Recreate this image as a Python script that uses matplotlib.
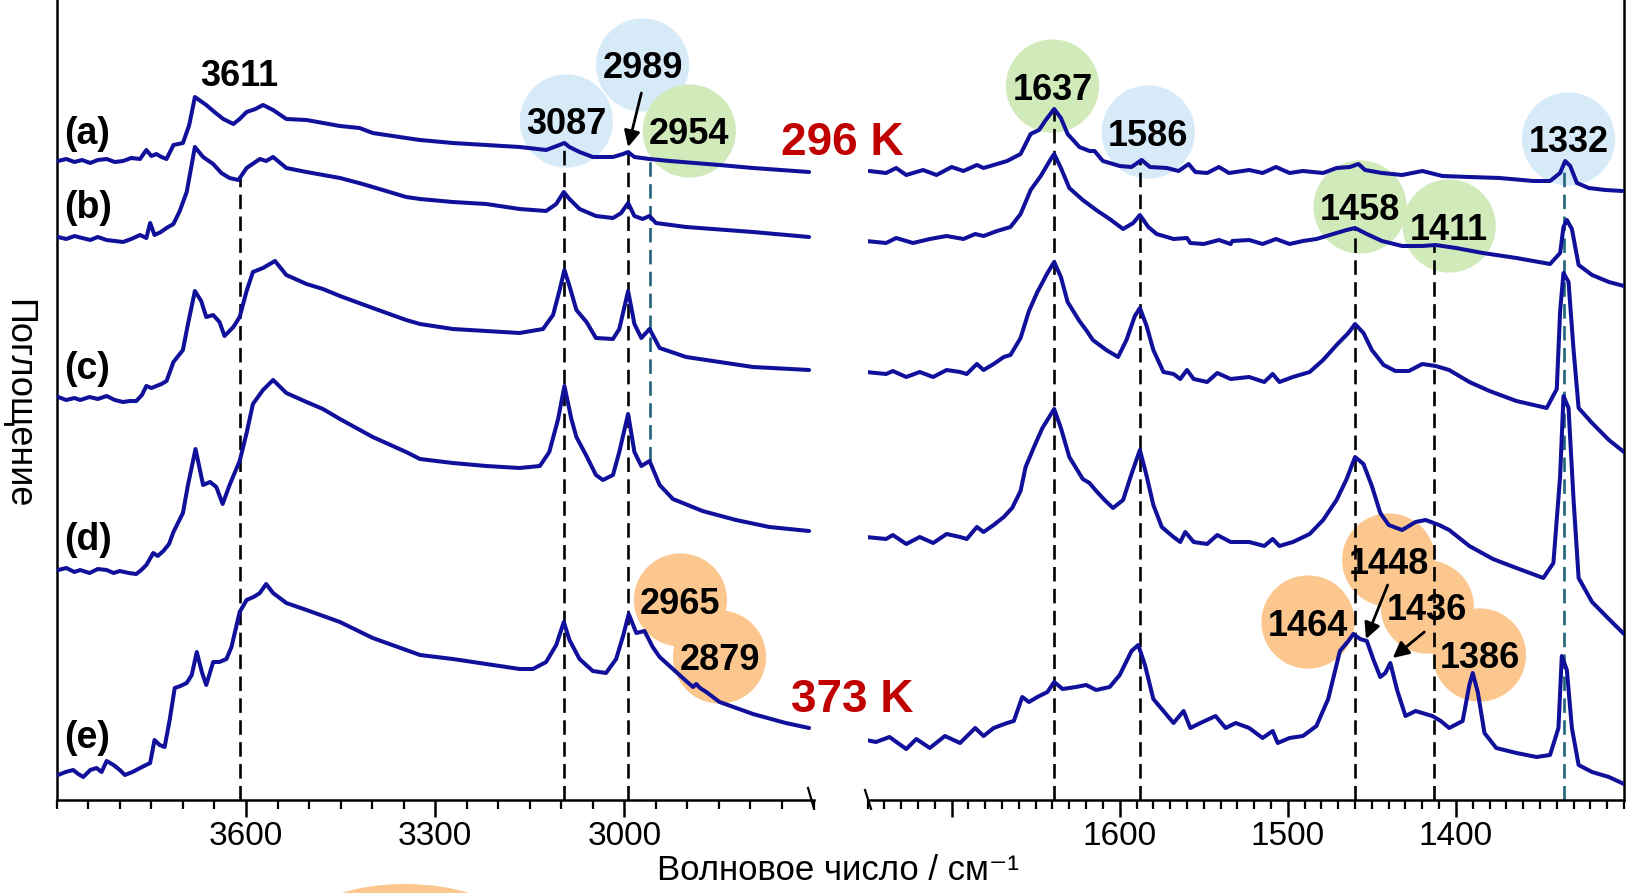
import numpy as np
import matplotlib
matplotlib.use("Agg")
import matplotlib.pyplot as plt
from matplotlib import font_manager
from matplotlib.ticker import FixedLocator, MultipleLocator
from matplotlib.patches import Ellipse
from matplotlib.lines import Line2D

plt.rcParams['font.family'] = ['Liberation Sans', 'DejaVu Sans']
_names = {f.name for f in font_manager.fontManager.ttflist}
if 'Liberation Sans Narrow' in _names:
    NARROW = ['Liberation Sans Narrow', 'DejaVu Sans']
    TICK_FS, XLAB_FS = 28, 30
else:
    NARROW = ['Liberation Sans', 'DejaVu Sans']
    TICK_FS, XLAB_FS = 24, 25

# ---------------- data (wavenumber cm-1, absorbance a.u. incl. offset) ----------------
spec_a_left = [(3898,6.39),(3885,6.41),(3872,6.38),(3860,6.40),(3847,6.37),(3835,6.40),(3821,6.41),(3808,6.38),
    (3795,6.39),(3782,6.42),(3768,6.41),(3758,6.50),(3750,6.44),(3742,6.46),(3734,6.43),(3726,6.41),(3715,6.55),
    (3700,6.57),(3690,6.75),(3681,7.03),(3672,6.99),(3663,6.95),(3650,6.88),(3636,6.81),(3620,6.76),(3610,6.81),
    (3599,6.88),(3585,6.91),(3573,6.95),(3557,6.90),(3536,6.81),(3504,6.80),(3451,6.74),(3420,6.72),(3399,6.67),
    (3346,6.62),(3324,6.60),(3272,6.57),(3219,6.55),(3166,6.53),(3124,6.50),(3103,6.55),(3095,6.57),(3087,6.53),
    (3071,6.48),(3050,6.43),(3018,6.43),(3002,6.46),(2994,6.48),(2984,6.43),(2960,6.41),(2928,6.39),(2849,6.35),
    (2796,6.32),(2707,6.28)]
spec_b_left = [(3898,5.63),(3885,5.61),(3872,5.64),(3860,5.62),(3847,5.60),(3835,5.63),(3821,5.60),(3808,5.59),
    (3795,5.58),(3782,5.61),(3768,5.65),(3758,5.62),(3752,5.77),(3745,5.65),(3735,5.68),(3726,5.72),(3715,5.76),
    (3705,5.89),(3694,6.08),(3681,6.53),(3668,6.43),(3652,6.36),(3639,6.27),(3626,6.22),(3612,6.20),(3599,6.32),
    (3578,6.41),(3568,6.39),(3557,6.43),(3536,6.32),(3504,6.28),(3451,6.22),(3415,6.16),(3399,6.13),(3346,6.03),
    (3324,6.01),(3272,5.98),(3219,5.96),(3166,5.91),(3124,5.89),(3108,5.96),(3096,6.08),(3087,6.01),(3071,5.91),
    (3045,5.84),(3018,5.82),(3005,5.87),(2994,5.97),(2984,5.84),(2971,5.81),(2960,5.84),(2950,5.77),(2902,5.73),
    (2796,5.68),(2707,5.63)]
spec_c_left = [(3898,4.03),(3885,4.00),(3872,4.02),(3863,4.00),(3848,4.03),(3835,4.01),(3821,4.04),(3808,4.00),
    (3795,3.98),(3784,3.99),(3774,3.99),(3765,4.05),(3758,4.14),(3750,4.12),(3742,4.14),(3734,4.16),(3726,4.19),
    (3715,4.38),(3700,4.50),(3692,4.76),(3681,5.09),(3671,4.99),(3663,4.83),(3652,4.85),(3642,4.78),(3634,4.64),
    (3620,4.73),(3610,4.83),(3599,5.09),(3589,5.28),(3573,5.32),(3554,5.39),(3536,5.25),(3504,5.16),(3478,5.11),
    (3451,5.04),(3399,4.92),(3346,4.80),(3324,4.76),(3272,4.71),(3219,4.69),(3166,4.67),(3129,4.71),(3113,4.85),
    (3103,5.09),(3095,5.30),(3087,5.14),(3076,4.90),(3060,4.78),(3045,4.62),(3018,4.61),(3008,4.71),(2994,5.09),
    (2984,4.76),(2973,4.62),(2960,4.71),(2944,4.52),(2902,4.43),(2849,4.38),(2796,4.33),(2707,4.30)]
spec_d_left = [(3898,2.30),(3885,2.32),(3872,2.28),(3863,2.30),(3848,2.27),(3835,2.31),(3821,2.30),(3810,2.27),
    (3800,2.29),(3786,2.27),(3774,2.26),(3766,2.30),(3758,2.35),(3747,2.47),(3740,2.44),(3731,2.49),(3722,2.56),
    (3715,2.68),(3700,2.87),(3692,3.15),(3680,3.51),(3668,3.15),(3657,3.18),(3647,3.13),(3637,2.96),(3626,3.15),
    (3610,3.39),(3599,3.67),(3589,3.96),(3573,4.10),(3557,4.20),(3536,4.07),(3504,3.98),(3478,3.91),(3451,3.81),
    (3399,3.63),(3346,3.48),(3324,3.41),(3272,3.37),(3219,3.34),(3166,3.32),(3134,3.34),(3119,3.48),(3105,3.81),
    (3095,4.14),(3084,3.81),(3076,3.63),(3060,3.44),(3045,3.25),(3034,3.20),(3018,3.25),(3008,3.48),(2994,3.86),
    (2984,3.48),(2973,3.34),(2960,3.39),(2944,3.15),(2923,3.01),(2876,2.89),(2823,2.80),(2770,2.73),(2707,2.69)]
spec_e_left = [(3898,0.25),(3886,0.28),(3874,0.30),(3866,0.26),(3858,0.23),(3847,0.30),(3837,0.32),(3829,0.28),
    (3821,0.39),(3810,0.35),(3800,0.30),(3792,0.25),(3780,0.28),(3768,0.32),(3752,0.37),(3745,0.60),(3737,0.55),
    (3729,0.53),(3721,0.80),(3713,1.12),(3704,1.14),(3694,1.17),(3686,1.25),(3678,1.48),(3670,1.28),(3663,1.15),
    (3652,1.38),(3642,1.38),(3631,1.41),(3623,1.53),(3610,1.88),(3599,2.00),(3588,2.03),(3578,2.07),(3568,2.16),
    (3557,2.07),(3536,1.97),(3504,1.90),(3451,1.78),(3399,1.62),(3346,1.50),(3324,1.45),(3272,1.41),(3219,1.36),
    (3166,1.31),(3145,1.31),(3124,1.38),(3108,1.55),(3096,1.78),(3087,1.60),(3071,1.41),(3050,1.29),(3029,1.27),
    (3013,1.41),(3002,1.64),(2993,1.86),(2981,1.67),(2968,1.69),(2955,1.53),(2944,1.43),(2923,1.31),(2902,1.19),
    (2891,1.13),(2886,1.16),(2880,1.12),(2870,1.08),(2849,0.98),(2796,0.86),(2744,0.77),(2707,0.72)]

spec_a_right = [(1749,6.29),(1739,6.27),(1733,6.32),(1727,6.25),(1717,6.30),(1709,6.25),(1700,6.33),(1693,6.29),
    (1685,6.35),(1681,6.32),(1673,6.36),(1667,6.39),(1659,6.46),(1653,6.66),(1648,6.70),(1644,6.80),(1639,6.91),
    (1635,6.82),(1631,6.66),(1624,6.53),(1618,6.49),(1615,6.49),(1610,6.39),(1600,6.34),(1593,6.33),(1587,6.40),
    (1582,6.33),(1572,6.32),(1565,6.29),(1559,6.36),(1555,6.28),(1548,6.27),(1541,6.33),(1535,6.27),(1523,6.30),
    (1515,6.27),(1507,6.33),(1499,6.27),(1491,6.29),(1479,6.27),(1471,6.32),(1463,6.33),(1458,6.36),(1454,6.30),
    (1444,6.27),(1432,6.25),(1420,6.29),(1408,6.24),(1392,6.23),(1374,6.22),(1354,6.19),(1344,6.19),(1338,6.27),
    (1335,6.39),(1332,6.34),(1328,6.17),(1321,6.12),(1311,6.10),(1301,6.09)]
spec_b_right = [(1751,5.59),(1739,5.57),(1733,5.62),(1723,5.57),(1713,5.61),(1703,5.64),(1693,5.61),(1686,5.66),
    (1681,5.64),(1673,5.69),(1665,5.73),(1659,5.86),(1653,6.10),(1647,6.24),(1641,6.41),(1639,6.46),(1635,6.32),
    (1630,6.12),(1622,6.00),(1614,5.90),(1606,5.81),(1598,5.71),(1592,5.77),(1588,5.85),(1583,5.73),(1578,5.66),
    (1568,5.61),(1560,5.62),(1558,5.57),(1550,5.56),(1541,5.60),(1534,5.56),(1533,5.59),(1523,5.60),(1515,5.56),
    (1507,5.61),(1499,5.56),(1491,5.59),(1483,5.61),(1473,5.66),(1465,5.70),(1460,5.72),(1453,5.66),(1444,5.59),
    (1432,5.54),(1420,5.54),(1412,5.55),(1400,5.52),(1384,5.47),(1364,5.42),(1344,5.36),(1338,5.47),(1336,5.73),
    (1334,5.80),(1331,5.71),(1327,5.35),(1319,5.25),(1309,5.18),(1300,5.14)]
spec_c_right = [(1751,4.28),(1739,4.26),(1735,4.29),(1727,4.23),(1719,4.28),(1711,4.23),(1703,4.30),(1695,4.28),
    (1691,4.26),(1685,4.36),(1681,4.30),(1675,4.36),(1669,4.43),(1665,4.45),(1659,4.62),(1654,4.89),(1649,5.08),
    (1643,5.27),(1639,5.38),(1635,5.23),(1631,4.98),(1624,4.79),(1620,4.70),(1616,4.60),(1608,4.50),(1601,4.43),
    (1596,4.60),(1591,4.84),(1588,4.92),(1584,4.74),(1580,4.50),(1574,4.28),(1568,4.26),(1564,4.21),(1560,4.30),
    (1556,4.21),(1548,4.18),(1542,4.27),(1534,4.21),(1523,4.23),(1514,4.18),(1509,4.26),(1505,4.18),(1497,4.23),
    (1487,4.28),(1479,4.40),(1471,4.55),(1464,4.67),(1460,4.76),(1455,4.67),(1450,4.50),(1443,4.35),(1436,4.29),
    (1428,4.29),(1420,4.36),(1412,4.34),(1404,4.30),(1392,4.18),(1380,4.09),(1364,3.99),(1346,3.92),(1340,4.11),
    (1338,4.89),(1336,5.27),(1333,5.18),(1330,4.50),(1327,3.92),(1319,3.77),(1309,3.60),(1300,3.48)]
spec_d_right = [(1751,2.63),(1739,2.61),(1735,2.65),(1727,2.56),(1719,2.63),(1711,2.57),(1703,2.66),(1695,2.63),
    (1691,2.61),(1685,2.73),(1681,2.68),(1675,2.75),(1669,2.83),(1664,2.92),(1659,3.09),(1656,3.33),(1651,3.53),
    (1646,3.72),(1639,3.91),(1635,3.72),(1630,3.43),(1622,3.21),(1618,3.17),(1614,3.09),(1609,3.00),(1604,2.92),
    (1598,3.00),(1593,3.26),(1588,3.50),(1584,3.24),(1580,2.95),(1575,2.73),(1568,2.63),(1564,2.58),(1561,2.68),
    (1556,2.58),(1548,2.56),(1542,2.65),(1534,2.58),(1523,2.58),(1514,2.54),(1509,2.61),(1505,2.54),(1497,2.58),
    (1487,2.66),(1479,2.80),(1471,3.00),(1465,3.21),(1460,3.43),(1455,3.36),(1450,3.14),(1445,2.87),(1440,2.75),
    (1432,2.70),(1424,2.78),(1418,2.80),(1410,2.75),(1404,2.70),(1392,2.54),(1378,2.41),(1364,2.32),(1348,2.22),
    (1342,2.37),(1338,3.24),(1336,4.04),(1333,3.92),(1330,3.00),(1327,2.22),(1319,1.98),(1309,1.81),(1300,1.66)]
spec_e_right = [(1751,0.60),(1745,0.58),(1737,0.63),(1727,0.51),(1721,0.61),(1713,0.52),(1704,0.64),(1695,0.57),
    (1686,0.72),(1681,0.64),(1675,0.72),(1667,0.77),(1663,0.79),(1658,1.03),(1654,0.98),(1649,1.03),(1643,1.08),
    (1639,1.18),(1634,1.11),(1626,1.13),(1620,1.15),(1614,1.10),(1606,1.13),(1600,1.25),(1593,1.49),(1589,1.55),
    (1585,1.35),(1580,1.01),(1574,0.89),(1568,0.77),(1562,0.89),(1558,0.72),(1552,0.77),(1543,0.84),(1537,0.72),
    (1531,0.77),(1523,0.72),(1515,0.62),(1509,0.69),(1506,0.57),(1499,0.62),(1491,0.64),(1483,0.74),(1476,1.01),
    (1469,1.49),(1464,1.59),(1461,1.66),(1457,1.61),(1453,1.59),(1449,1.40),(1445,1.23),(1442,1.27),(1439,1.37),
    (1435,1.10),(1430,0.84),(1424,0.89),(1418,0.86),(1414,0.84),(1409,0.79),(1404,0.72),(1396,0.79),(1392,1.15),
    (1390,1.27),(1387,1.08),(1383,0.67),(1376,0.52),(1364,0.47),(1352,0.43),(1344,0.45),(1339,0.72),(1337,1.44),
    (1334,1.30),(1331,0.72),(1327,0.35),(1319,0.28),(1309,0.23),(1300,0.16)]

spectrum_names = ['(a)', '(b)', '(c)', '(d)', '(e)']
name_y = [6.70, 5.96, 4.35, 2.64, 0.66]

# marker (dashed) lines: position, top of line, colour group
lines_left_w = [3610, 3096, 2994, 2960]
lines_left_top = [6.22, 6.55, 6.47, 6.40]
lines_left_bottom = [0.0, 0.0, 0.0, 3.39]
lines_left_kind = ['k', 'k', 'k', 't']
lines_right_w = [1639, 1588, 1460, 1413, 1335.5]
lines_right_top = [6.90, 6.39, 5.71, 5.56, 6.39]
lines_right_kind = ['k', 'k', 'k', 'k', 't']

# band labels (circles)
bands_left = ['3087', '2989', '2954', '2965', '2879']
bands_left_w = [3092, 2971, 2897, 2911, 2849]
bands_left_y = [6.79, 7.35, 6.69, 2.00, 1.43]
bands_left_grp = ['b', 'b', 'g', 'o', 'o']
bands_right = ['1637', '1586', '1332', '1458', '1411', '1448', '1436', '1464', '1386']
bands_right_w = [1640, 1583, 1333, 1457, 1404, 1440, 1417, 1488, 1386]
bands_right_y = [7.14, 6.68, 6.61, 5.93, 5.74, 2.40, 1.93, 1.78, 1.45]
bands_right_grp = ['g', 'b', 'b', 'g', 'g', 'o', 'o', 'o', 'o']

# ---------------- styles ----------------
LINE = '#10109a'
FILL = {'b': '#d6eaf8', 'g': '#d0eaba', 'o': '#fbc78e'}
DASHC = {'k': 'black', 't': '#1f6478'}
RED = '#c00000'

W, H = 1626, 893
fig = plt.figure(figsize=(W / 100, H / 100), dpi=100)


def rect(x0, x1, ytop, ybot):
    return [x0 / W, 1 - ybot / H, (x1 - x0) / W, (ybot - ytop) / H]


axL = fig.add_axes(rect(56.8, 813.5, 0, 800))
axR = fig.add_axes(rect(867.6, 1624, 0, 800))

axL.set_xlim(3900, 2700)
axR.set_xlim(1750, 1300)
for ax in (axL, axR):
    ax.set_ylim(0, 8.0)
    ax.set_yticks([])
    ax.spines['top'].set_visible(False)
    for s in ax.spines.values():
        s.set_linewidth(1.8)
    ax.tick_params(axis='x', which='major', direction='out', length=12, width=1.8, pad=3)
    ax.tick_params(axis='x', which='minor', direction='out', length=6.5, width=1.6)
    ax.patch.set_visible(False)

axL.spines['right'].set_visible(False)
axR.spines['left'].set_visible(False)

axL.xaxis.set_major_locator(FixedLocator([3600, 3300, 3000]))
axL.set_xticklabels(['3600', '3300', '3000'])
axL.xaxis.set_minor_locator(MultipleLocator(50))
axR.xaxis.set_major_locator(FixedLocator([1700, 1600, 1500, 1400]))
axR.set_xticklabels(['', '1600', '1500', '1400'])
axR.xaxis.set_minor_locator(MultipleLocator(10))
for ax in (axL, axR):
    for lab in ax.get_xticklabels():
        lab.set_family(NARROW)
        lab.set_fontsize(TICK_FS)

# circles
def circles(ax, ws, ys, grp):
    ax.scatter(ws, ys, s=4500, c=[FILL[g] for g in grp], edgecolors='none', zorder=1)

circles(axL, bands_left_w, bands_left_y, bands_left_grp)
circles(axR, bands_right_w, bands_right_y, bands_right_grp)

# dashed marker lines
DASH = (0, (5.5, 2.8))
for w, t, b, k in zip(lines_left_w, lines_left_top, lines_left_bottom, lines_left_kind):
    axL.plot([w, w], [b, t], color=DASHC[k], lw=1.9, linestyle=DASH, zorder=2)
for w, t, k in zip(lines_right_w, lines_right_top, lines_right_kind):
    axR.plot([w, w], [0, t], color=DASHC[k], lw=1.9, linestyle=DASH, zorder=2)

# spectra
for pts in (spec_a_left, spec_b_left, spec_c_left, spec_d_left, spec_e_left):
    arr = np.array(pts)
    axL.plot(arr[:, 0], arr[:, 1], color=LINE, lw=2.9, zorder=3,
             solid_joinstyle='round', solid_capstyle='round')
for pts in (spec_a_right, spec_b_right, spec_c_right, spec_d_right, spec_e_right):
    arr = np.array(pts)
    axR.plot(arr[:, 0], arr[:, 1], color=LINE, lw=2.9, zorder=3,
             solid_joinstyle='round', solid_capstyle='round')

# band numbers
for t, w, y in zip(bands_left, bands_left_w, bands_left_y):
    axL.text(w, y, t, ha='center', va='center_baseline', fontsize=26, fontweight='bold', zorder=4)
for t, w, y in zip(bands_right, bands_right_w, bands_right_y):
    axR.text(w, y, t, ha='center', va='center_baseline', fontsize=26, fontweight='bold', zorder=4)
axL.text(3610, 7.28, '3611', ha='center', va='center_baseline', fontsize=26, fontweight='bold', zorder=4)

# spectrum names
for n, y in zip(spectrum_names, name_y):
    axL.text(3889, y, n, ha='left', va='center_baseline', fontsize=27, fontweight='bold', zorder=4)

# arrows
ap = dict(arrowstyle='-|>', color='black', lw=2.0, mutation_scale=24, shrinkA=0, shrinkB=0)
axL.annotate('', xy=(2994, 6.53), xytext=(2973, 7.07), arrowprops=ap, zorder=5)
axR.annotate('', xy=(1453.5, 1.61), xytext=(1440.6, 2.15), arrowprops=ap, zorder=5)
axR.annotate('', xy=(1437.6, 1.42), xytext=(1418.8, 1.68), arrowprops=ap, zorder=5)

# axis break marks
axL.add_line(Line2D([0.9928, 1.0007], [0.015, -0.011], transform=axL.transAxes, color='black',
                    lw=1.6, clip_on=False))
axR.add_line(Line2D([-0.0034, 0.0045], [0.0125, -0.011], transform=axR.transAxes, color='black',
                    lw=1.6, clip_on=False))

# temperatures
fig.text(842 / W, 1 - 138 / H, '296 K', ha='center', va='center_baseline', fontsize=33,
         fontweight='bold', color=RED, zorder=10)
fig.text(852 / W, 1 - 695 / H, '373 K', ha='center', va='center_baseline', fontsize=33,
         fontweight='bold', color=RED, zorder=10)

# axis titles
fig.text(18 / W, 1 - 404 / H, 'Поглощение', rotation=270, ha='center', va='center', fontsize=26)
fig.text(838 / W, 1 - 871 / H, 'Волновое число / см⁻¹', ha='center', va='center',
         fontsize=XLAB_FS, family=NARROW)

# stray orange blob at bottom edge (as in original)
fig.add_artist(Ellipse((4.05, -0.26), 1.9, 0.7, transform=fig.dpi_scale_trans,
                       facecolor=FILL['o'], edgecolor='none', zorder=0))

fig.savefig('out.png', dpi=100)
